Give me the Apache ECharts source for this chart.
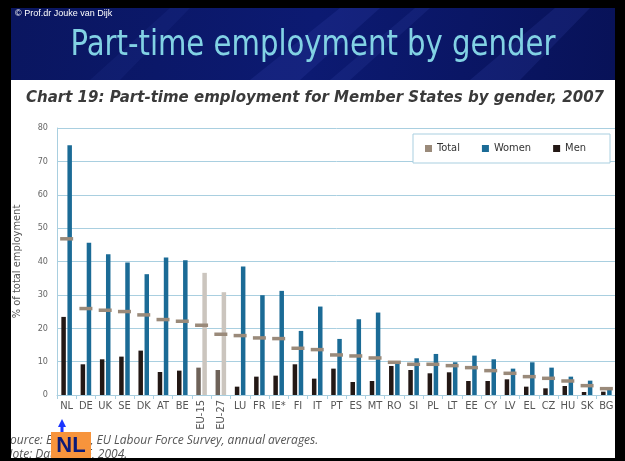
<!DOCTYPE html>
<html>
<head>
<meta charset="utf-8">
<script src="https://cdn.jsdelivr.net/npm/echarts@6/dist/echarts.min.js"></script>
<style>
  html, body { margin: 0; padding: 0; background: #000; }
  #chart { width: 625px; height: 461px; }
</style>
</head>
<body>
<div id="chart"></div>
<script>
// categories and values (% of total employment)
var countries = ['NL', 'DE', 'UK', 'SE', 'DK', 'AT', 'BE', 'EU-15', 'EU-27', 'LU', 'FR', 'IE*', 'FI', 'IT', 'PT',
  'ES', 'MT', 'RO', 'SI', 'PL', 'LT', 'EE', 'CY', 'LV', 'EL', 'CZ', 'HU', 'SK', 'BG'];
var totalVals = [46.8, 25.9, 25.4, 25.0, 24.0, 22.6, 22.1, 20.9, 18.2, 17.8, 17.1, 16.9, 14.0, 13.6, 12.0,
  11.7, 11.1, 9.8, 9.2, 9.2, 8.8, 8.2, 7.3, 6.5, 5.5, 5.0, 4.2, 2.8, 1.9];
var womenVals = [74.8, 45.6, 42.2, 39.7, 36.2, 41.2, 40.4, 36.6, 30.8, 38.5, 29.9, 31.2, 19.2, 26.5, 16.8,
  22.7, 24.7, 9.6, 11.0, 12.3, 9.8, 11.8, 10.7, 7.9, 9.8, 8.2, 5.5, 4.3, 1.7];
var menVals = [23.4, 9.2, 10.7, 11.5, 13.3, 6.9, 7.3, 8.2, 7.5, 2.5, 5.5, 5.8, 9.2, 4.9, 7.9,
  3.9, 4.2, 8.7, 7.5, 6.5, 6.8, 4.2, 4.2, 4.7, 2.5, 2.0, 2.7, 0.9, 1.0];

var narrow = '"DejaVu Sans Condensed", "Liberation Sans Narrow", sans-serif';
var gridCol = '#a9cfe0';

function isEU(name) { return name.indexOf('EU') === 0 }

// EU averages get greyed bars
var womenData = womenVals.map(function (v, i) {
  return isEU(countries[i]) ? {value: v, itemStyle: {color: '#cbc5be'}} : v
})
var menData = menVals.map(function (v, i) {
  return isEU(countries[i]) ? {value: v, itemStyle: {color: '#6e6259'}} : v
})

var chart = echarts.init(document.getElementById('chart'));

chart.setOption({
  backgroundColor: '#fff',
  animation: false,
  grid: {left: 57, right: 9, top: 128, bottom: 66},
  legend: {
    data: ['Total', 'Women', 'Men'],
    left: 413,
    top: 134,
    padding: [9, 24, 9, 12],
    itemGap: 22,
    itemWidth: 7,
    itemHeight: 7,
    icon: 'rect',
    borderColor: gridCol,
    borderWidth: 1,
    backgroundColor: '#fff',
    textStyle: {fontSize: 11, color: '#333', fontFamily: narrow}
  },
  xAxis: [
    {
      type: 'category',
      data: countries,
      axisLine: {lineStyle: {color: gridCol}},
      axisTick: {show: true, length: 4, lineStyle: {color: gridCol}},
      axisLabel: {
        interval: 0, margin: 6, fontSize: 11, color: '#555', fontFamily: narrow,
        formatter: function (v) { return isEU(v) ? '' : v }
      }
    },
    {
      type: 'category',
      data: countries,
      position: 'bottom',
      axisLine: {show: false},
      axisTick: {show: false},
      axisLabel: {
        interval: 0, rotate: 90, margin: 5, fontSize: 11, color: '#555', fontFamily: narrow,
        formatter: function (v) { return isEU(v) ? v : '' }
      }
    }
  ],
  yAxis: {
    type: 'value',
    min: 0,
    max: 80,
    interval: 10,
    name: '% of total employment',
    nameLocation: 'middle',
    nameRotate: 90,
    nameGap: 34,
    nameTextStyle: {fontSize: 11, color: '#555', fontFamily: narrow},
    axisLine: {show: true, lineStyle: {color: gridCol}},
    axisTick: {show: false},
    axisLabel: {fontSize: 9, color: '#666', margin: 9, fontFamily: narrow},
    splitLine: {lineStyle: {color: gridCol, width: 1}}
  },
  series: [
    {
      name: 'Men',
      type: 'bar',
      barWidth: 4.5,
      barGap: '35%',
      itemStyle: {color: '#231815'},
      data: menData
    },
    {
      name: 'Women',
      type: 'bar',
      barWidth: 4.5,
      itemStyle: {color: '#1b6b96'},
      data: womenData
    },
    {
      name: 'Total',
      type: 'scatter',
      symbol: 'rect',
      symbolSize: [13, 3.5],
      z: 5,
      itemStyle: {color: '#9a8a7a', opacity: 1},
      data: totalVals
    }
  ],
  graphic: [
    // slide header band
    {
      type: 'rect', z: 50,
      shape: {x: 11, y: 8, width: 604, height: 72},
      style: {
        fill: new echarts.graphic.LinearGradient(0, 0, 1, 1, [
          {offset: 0, color: '#0a1660'},
          {offset: 0.5, color: '#0c1a72'},
          {offset: 1, color: '#081258'}
        ])
      }
    },
    {type: 'polygon', z: 51, shape: {points: [[250, 80], [300, 80], [380, 8], [340, 8]]}, style: {fill: 'rgba(70,90,200,0.16)'}},
    {type: 'polygon', z: 51, shape: {points: [[330, 80], [350, 80], [430, 8], [415, 8]]}, style: {fill: 'rgba(70,90,200,0.14)'}},
    {type: 'polygon', z: 51, shape: {points: [[470, 80], [520, 80], [590, 8], [555, 8]]}, style: {fill: 'rgba(70,90,200,0.16)'}},
    {type: 'polygon', z: 51, shape: {points: [[90, 80], [120, 80], [190, 8], [170, 8]]}, style: {fill: 'rgba(70,90,200,0.10)'}},
    {
      type: 'text', z: 53, x: 313, y: 46, scaleX: 0.9,
      style: {
        text: 'Part-time employment by gender',
        font: '36px ' + narrow,
        fill: '#82d2e4',
        textAlign: 'center',
        textVerticalAlign: 'middle',
        shadowColor: 'rgba(0,0,0,0.9)',
        shadowOffsetX: 2,
        shadowOffsetY: 2,
        shadowBlur: 1
      }
    },
    {
      type: 'text', z: 53, x: 15, y: 14,
      style: {text: '\u00a9 Prof.dr Jouke van Dijk', font: '9px "Liberation Sans", Arial, sans-serif', fill: '#fff', textVerticalAlign: 'middle'}
    },
    // chart title and notes
    {
      type: 'text', z: 20, x: 26, y: 98,
      style: {
        text: 'Chart 19: Part-time employment for Member States by gender, 2007',
        font: 'italic bold 15px "DejaVu Sans", sans-serif',
        fill: '#3a3a3a',
        textVerticalAlign: 'middle'
      }
    },
    {
      type: 'text', z: 20, x: 4, y: 441,
      style: {text: 'Source: Eurostat, EU Labour Force Survey, annual averages.', font: 'italic 12px "Open Sans", sans-serif', fill: '#555', textVerticalAlign: 'middle'}
    },
    {
      type: 'text', z: 20, x: 4, y: 455,
      style: {text: 'Note: Data for IE, 2004.', font: 'italic 12px "Open Sans", sans-serif', fill: '#555', textVerticalAlign: 'middle'}
    },
    // NL callout
    {type: 'rect', z: 60, shape: {x: 51, y: 432, width: 40, height: 26}, style: {fill: '#f7943c'}},
    {
      type: 'text', z: 61, x: 71, y: 446,
      style: {text: 'NL', font: 'bold 22px "Liberation Sans", Arial, sans-serif', fill: '#0b1a78', textAlign: 'center', textVerticalAlign: 'middle'}
    },
    {type: 'rect', z: 60, shape: {x: 60.5, y: 426, width: 3, height: 6}, style: {fill: '#1a35ff'}},
    {type: 'polygon', z: 60, shape: {points: [[58, 427], [66, 427], [62, 419]]}, style: {fill: '#1a35ff'}},
    // black frame
    {type: 'rect', z: 100, shape: {x: 0, y: 0, width: 11, height: 461}, style: {fill: '#000'}},
    {type: 'rect', z: 100, shape: {x: 615, y: 0, width: 10, height: 461}, style: {fill: '#000'}},
    {type: 'rect', z: 100, shape: {x: 0, y: 0, width: 625, height: 8}, style: {fill: '#000'}},
    {type: 'rect', z: 100, shape: {x: 0, y: 458, width: 625, height: 3}, style: {fill: '#000'}}
  ]
});
</script>
</body>
</html>
